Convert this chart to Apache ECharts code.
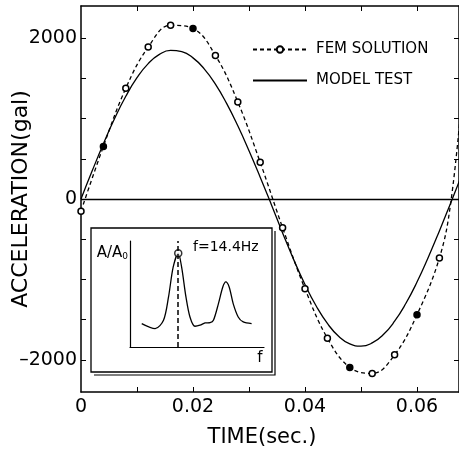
<!DOCTYPE html>
<html>
<head>
<meta charset="utf-8">
<script src="https://cdn.jsdelivr.net/npm/echarts@6/dist/echarts.min.js"></script>
<style>
  html, body { margin: 0; padding: 0; background: #fff; }
  #chart { width: 459px; height: 454px; }
</style>
</head>
<body>
<div id="chart"></div>
<script>
// FEM solution, one marker every 0.004 s (last two values only carry the dashed line to the edge)
const femTime = [0, 0.004, 0.008, 0.012, 0.016, 0.020, 0.024, 0.028, 0.032, 0.036, 0.040,
  0.044, 0.048, 0.052, 0.056, 0.060, 0.064, 0.066, 0.068];
const femValue = [-151, 654, 1377, 1889, 2161, 2120, 1786, 1207, 456, -357, -1117,
  -1731, -2095, -2170, -1938, -1439, -733, -60, 1250];
const femMarker = ['open', 'filled', 'open', 'open', 'open', 'filled', 'open', 'open', 'open', 'open', 'open',
  'open', 'filled', 'open', 'open', 'filled', 'open', 'none', 'none'];

// model test record
const modelTime = [0, 0.002, 0.004, 0.006, 0.008, 0.010, 0.012, 0.014, 0.016, 0.018, 0.020,
  0.022, 0.024, 0.026, 0.028, 0.030, 0.032, 0.034, 0.036, 0.038, 0.040, 0.042, 0.044,
  0.046, 0.048, 0.050, 0.052, 0.054, 0.056, 0.058, 0.060, 0.062, 0.064, 0.066, 0.068];
const modelValue = [0, 350, 688, 1000, 1277, 1508, 1684, 1798, 1848, 1832, 1755,
  1619, 1429, 1189, 910, 600, 271, -71, -422, -757, -1064, -1331, -1548,
  -1707, -1802, -1830, -1790, -1686, -1520, -1300, -1033, -727, -397, -52, 298];

// inset spectrum
const specFreq = [3.5, 7.5, 10.0, 11.5, 12.9, 14.4, 15.4, 16.7, 17.9, 19.4, 20.9,
  22.4, 23.9, 24.9, 26.4, 27.7, 28.6, 29.6, 30.8, 32.3, 33.8, 36.3];
const specAmp = [0.25, 0.196, 0.285, 0.534, 0.854, 1.0, 0.854, 0.534, 0.32, 0.221, 0.232,
  0.256, 0.26, 0.285, 0.463, 0.64, 0.694, 0.64, 0.463, 0.32, 0.267, 0.25];
const peakFreq = [14.4];
const peakAmp = [1.0];

// ticks and labels
const xTicks = [0.01, 0.02, 0.03, 0.04, 0.05, 0.06];
const xLabels = [0, 0.02, 0.04, 0.06];
const yTicks = [-2000, -1500, -1000, -500, 0, 500, 1000, 1500, 2000];
const yLabels = [-2000, 0, 2000];

const FONT = 'DejaVu Sans';

const chart = echarts.init(document.getElementById('chart'));

const femData = femTime.map((t, i) => {
  const item = { value: [t, femValue[i]] };
  if (femMarker[i] === 'filled') item.itemStyle = { color: '#000' };
  if (femMarker[i] === 'none') item.symbol = 'none';
  return item;
});

const boxAxis = (pos, extra) => Object.assign({
  type: 'value',
  gridIndex: 0,
  position: pos,
  axisLine: { show: true, onZero: false, lineStyle: { color: '#000', width: 1.5 } },
  axisLabel: { show: false },
  splitLine: { show: false }
}, extra);

const option = {
  animation: false,
  backgroundColor: '#fff',
  textStyle: { fontFamily: FONT, color: '#000' },
  grid: [
    { left: 81, right: 0, top: 6, bottom: 62, outerBoundsMode: 'none', containLabel: false },
    { left: 130, top: 241, width: 134, height: 106, outerBoundsMode: 'none', containLabel: false }
  ],
  legend: {
    data: [
      { name: 'FEM SOLUTION' },
      { name: 'MODEL TEST', itemStyle: { opacity: 0, color: 'transparent', borderWidth: 0 } }
    ],
    orient: 'vertical',
    left: 247,
    top: 37,
    itemWidth: 54,
    itemHeight: 8,
    itemGap: 16,
    textStyle: { fontFamily: FONT, fontSize: 15, color: '#000', padding: [0, 0, 0, 4] }
  },
  xAxis: [
    boxAxis('bottom', {
      min: 0, max: 0.0675,
      axisTick: { inside: true, length: 5, lineStyle: { color: '#000' }, customValues: xTicks },
      axisLabel: {
        show: true, customValues: xLabels, margin: 6,
        fontFamily: FONT, fontSize: 19, color: '#000',
        formatter: v => (v === 0 ? '0' : v.toFixed(2))
      },
      name: 'TIME(sec.)',
      nameLocation: 'middle',
      nameGap: 35,
      nameMoveOverlap: false,
      nameTextStyle: { fontFamily: FONT, fontSize: 21, color: '#000', padding: [0, 16, 0, 0] }
    }),
    boxAxis('top', {
      min: 0, max: 0.0675,
      axisTick: { inside: true, length: 5, lineStyle: { color: '#000' }, customValues: xTicks }
    }),
    {
      type: 'value', gridIndex: 1, min: 0, max: 40,
      axisLine: { show: true, lineStyle: { color: '#000', width: 1.2 } },
      axisTick: { show: false }, axisLabel: { show: false }, splitLine: { show: false }
    }
  ],
  yAxis: [
    boxAxis('left', {
      min: -2400, max: 2400,
      axisTick: { inside: true, length: 5, lineStyle: { color: '#000' }, customValues: yTicks },
      axisLabel: {
        show: true, customValues: yLabels, margin: 4,
        fontFamily: FONT, fontSize: 19, color: '#000',
        formatter: v => (v < 0 ? '\u2013' + Math.abs(v) : String(v))
      },
      name: 'ACCELERATION(gal)',
      nameLocation: 'middle',
      nameGap: 49,
      nameMoveOverlap: false,
      nameTextStyle: { fontFamily: FONT, fontSize: 22, color: '#000' }
    }),
    boxAxis('right', {
      min: -2400, max: 2400,
      axisTick: { inside: true, length: 5, lineStyle: { color: '#000' }, customValues: yTicks }
    }),
    {
      type: 'value', gridIndex: 1, min: 0, max: 1.13,
      axisLine: { show: true, lineStyle: { color: '#000', width: 1.2 } },
      axisTick: { show: false }, axisLabel: { show: false }, splitLine: { show: false }
    }
  ],
  graphic: [
    {
      type: 'polyline',
      shape: { points: [[275, 231], [275, 375], [94, 375]] },
      style: { fill: 'none', stroke: '#000', lineWidth: 1.2 }
    },
    {
      type: 'rect',
      shape: { x: 91, y: 228, width: 181, height: 144 },
      style: { fill: 'none', stroke: '#000', lineWidth: 1.3 }
    },
    {
      type: 'text', x: 128, y: 253,
      style: {
        text: 'A/A{s|0}',
        font: '15px "DejaVu Sans"',
        fill: '#000',
        textAlign: 'right',
        textVerticalAlign: 'middle',
        rich: { s: { fontSize: 9, fontFamily: FONT, verticalAlign: 'bottom', padding: [7, 0, 0, 0] } }
      }
    },
    {
      type: 'text', x: 193, y: 247,
      style: { text: 'f=14.4Hz', font: '14px "DejaVu Sans"', fill: '#000', textVerticalAlign: 'middle' }
    },
    {
      type: 'text', x: 260, y: 358,
      style: { text: 'f', font: '15px "DejaVu Sans"', fill: '#000', textAlign: 'center', textVerticalAlign: 'middle' }
    }
  ],
  series: [
    {
      name: 'FEM SOLUTION',
      type: 'line',
      xAxisIndex: 0, yAxisIndex: 0,
      data: femData,
      smooth: 0.4,
      clip: true,
      symbol: 'circle',
      symbolSize: 6,
      itemStyle: { color: '#fff', borderColor: '#000', borderWidth: 1.5 },
      lineStyle: { color: '#000', width: 1.3, type: [4, 3] },
      z: 3
    },
    {
      name: 'MODEL TEST',
      type: 'line',
      xAxisIndex: 0, yAxisIndex: 0,
      data: modelTime.map((t, i) => [t, modelValue[i]]),
      smooth: true,
      clip: true,
      symbol: 'none',
      itemStyle: { color: '#000' },
      lineStyle: { color: '#000', width: 1.3 },
      markLine: {
        silent: true,
        symbol: ['none', 'none'],
        label: { show: false },
        lineStyle: { color: '#000', width: 1.3, type: 'solid' },
        data: [{ yAxis: 0 }]
      }
    },
    {
      name: 'spectrum',
      type: 'line',
      xAxisIndex: 2, yAxisIndex: 2,
      data: specFreq.map((f, i) => [f, specAmp[i]]),
      smooth: 0.3,
      symbol: 'none',
      lineStyle: { color: '#000', width: 1.3 },
      markLine: {
        silent: true,
        symbol: ['none', 'none'],
        label: { show: false },
        lineStyle: { color: '#000', width: 1.5, type: [5, 3] },
        data: [{ xAxis: peakFreq[0] }]
      }
    },
    {
      name: 'peak',
      type: 'scatter',
      xAxisIndex: 2, yAxisIndex: 2,
      data: peakFreq.map((f, i) => [f, peakAmp[i]]),
      symbol: 'circle',
      symbolSize: 7,
      itemStyle: { color: '#fff', borderColor: '#000', borderWidth: 1.5 },
      z: 4
    }
  ]
};

chart.setOption(option);
</script>
</body>
</html>
